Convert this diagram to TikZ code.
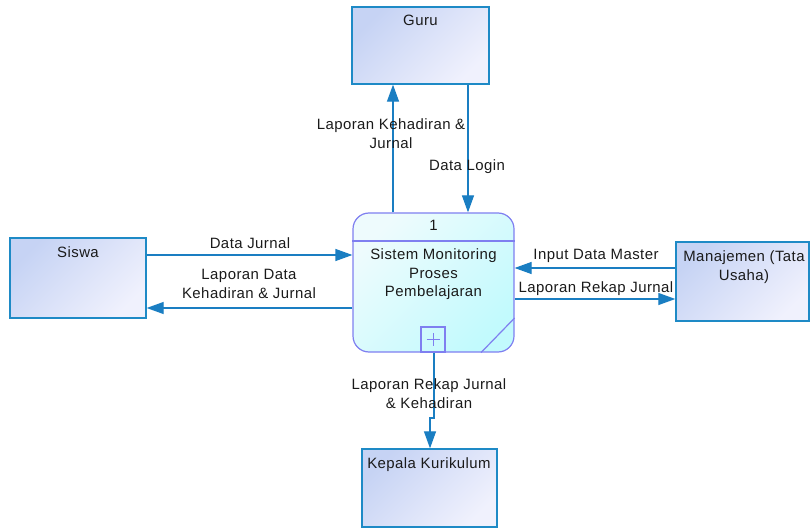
\documentclass[tikz,border=0pt]{standalone}
\usepackage{fontspec}
\setmainfont[LetterSpace=3]{Liberation Sans}
\usetikzlibrary{arrows.meta}
\definecolor{flowc}{HTML}{1A7EC2}
\definecolor{entb}{HTML}{1E8AC6}
\definecolor{entA}{HTML}{C6D3F4}
\definecolor{entB}{HTML}{F0F1FD}
\definecolor{procb}{HTML}{7F7FF0}
\definecolor{procA}{HTML}{EEFBFD}
\definecolor{procB}{HTML}{C2FAFD}
\definecolor{txt}{HTML}{1A1A1A}
\tikzset{
  entity/.style={draw=entb, line width=1.3bp, shading=axis, left color=entA, right color=entB, shading angle=45},
  proc/.style={draw=procb, line width=1.2bp, rounded corners=16bp, shading=axis, left color=procA, right color=procB, shading angle=45, minimum width=161bp, minimum height=139bp},
  flow/.style={draw=flowc, line width=1.2bp, -{Triangle[length=17bp,width=12bp]}},
  lbl/.style={anchor=north, inner sep=0pt, align=center, text=txt, font=\fontsize{15}{18.8}\selectfont},
  plain/.style={draw=procb, line width=1.2bp}
}
\begin{document}
\begin{tikzpicture}[x=1bp,y=-1bp]
\useasboundingbox (0,0) rectangle (810,529);
% entities
\node[entity, minimum width=137bp, minimum height=77bp] (guru) at (420.5,45.5) {};
\node[entity, minimum width=136bp, minimum height=80bp] (siswa) at (78,278) {};
\node[entity, minimum width=133bp, minimum height=79bp] (man) at (742.5,281.5) {};
\node[entity, minimum width=135bp, minimum height=78bp] (kep) at (429.5,488) {};
% process
\node[proc] (proc) at (433.5,282.5) {};
\draw[plain] (proc.west |- 0,241) -- (proc.east |- 0,241);
\draw[plain] (proc.south east -| 481,0) -- (proc.south east |- 0,318);
\node[plain, minimum width=24bp, minimum height=25bp, inner sep=0pt] (plus) at (433,339.5) {};
\draw[plain, line width=0.9bp] (plus.center) ++(-6.5,0) -- ++(13,0);
\draw[plain, line width=0.9bp] (plus.center) ++(0,-6.5) -- ++(0,13);
% texts in shapes
\node[lbl] (tguru) at (420.5,14.5) {Guru};
\node[lbl] (tsiswa) at (78,246.5) {Siswa};
\node[lbl] (tman) at (744,250.5) {Manajemen (Tata\\Usaha)};
\node[lbl] (tkep) at (429,457.5) {Kepala Kurikulum};
\node[lbl] (tnum) at (433.5,220.5) {1};
\node[lbl] (tproc) at (433.5,248.5) {Sistem Monitoring\\Proses\\Pembelajaran};
% connectors
\draw[flow] (proc.north -| 393,0) -- (guru.south -| 393,0);
\draw[flow] (guru.south -| 468,0) -- (proc.north -| 468,0);
\draw[flow] (siswa.east |- 0,255) -- (proc.west |- 0,255);
\draw[flow] (proc.west |- 0,308) -- (siswa.east |- 0,308);
\draw[flow] (man.west |- 0,268) -- (proc.east |- 0,268);
\draw[flow] (proc.east |- 0,299) -- (man.west |- 0,299);
\draw[flow] (plus.south -| 434,0) -- (434,418) -- (430,418) -- (kep.north -| 430,0);
% connector labels
\node[lbl] (l1) at (391,118.5) {Laporan Kehadiran \&\\Jurnal};
\node[lbl] (l2) at (467,159.5) {Data Login};
\node[lbl] (l3) at (250,237.5) {Data Jurnal};
\node[lbl] (l4) at (249,269.5) {Laporan Data\\Kehadiran \& Jurnal};
\node[lbl] (l5) at (596,249.5) {Input Data Master};
\node[lbl] (l6) at (596,281.5) {Laporan Rekap Jurnal};
\node[lbl] (l7) at (429,378.5) {Laporan Rekap Jurnal\\\& Kehadiran};
\end{tikzpicture}
\end{document}
